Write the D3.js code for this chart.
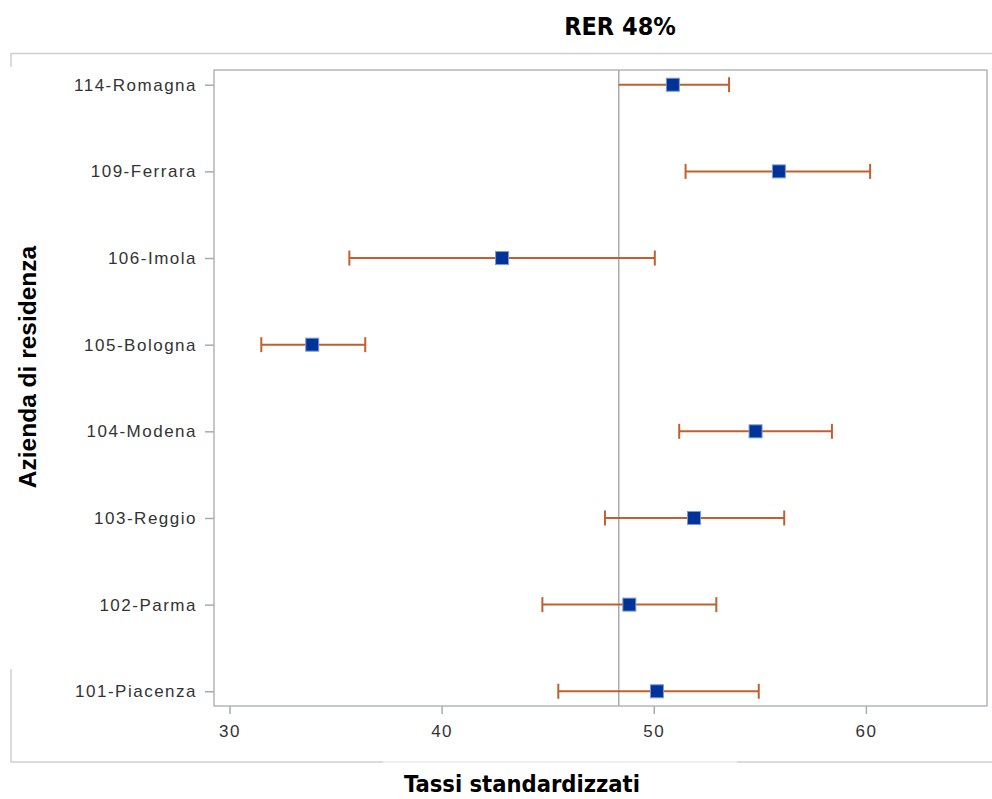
<!DOCTYPE html>
<html>
<head>
<meta charset="utf-8">
<script src="https://cdn.jsdelivr.net/npm/d3@7"></script>
<style>
  body { margin: 0; background: #fff; }
  svg { display: block; }
</style>
</head>
<body>
<svg class="chart" width="992" height="799"></svg>
<script>
// data
const aziende = ['114-Romagna', '109-Ferrara', '106-Imola', '105-Bologna',
    '104-Modena', '103-Reggio', '102-Parma', '101-Piacenza'];
const tassi = [50.9, 55.9, 42.85, 33.9, 54.8, 51.9, 48.85, 50.15];
const limInf = [48.35, 51.5, 35.65, 31.5, 51.2, 47.7, 44.75, 45.5];
const limSup = [53.55, 60.2, 50.05, 36.4, 58.4, 56.15, 52.95, 54.95];
const xTicks = [30, 40, 50, 60];
const rer = 48.35;
const titolo = 'RER 48%';

const data = aziende.map((a, i) => ({ azienda: a, tasso: tassi[i], lo: limInf[i], hi: limSup[i] }));

const svg = d3.select('.chart');

const plot = { left: 214, right: 987, top: 70, bottom: 706 };

// light outer frame (partly hidden like in the original)
const frame = svg.append('g')
    .attr('fill', 'none')
    .attr('stroke', '#cfcfcf')
    .attr('stroke-width', 1.5);
frame.append('path').attr('d', 'M11,67V53.5H992');
frame.append('path').attr('d', 'M11,669V762H383');
frame.append('path').attr('d', 'M737,762H992');
frame.append('path').attr('d', 'M383,762H737').attr('stroke', '#e8e8e8');

const xScale = d3.scaleLinear()
    .domain([29.27, 65.71])
    .range([plot.left, plot.right]);

const yScale = d3.scalePoint()
    .domain(aziende)
    .range([plot.top, plot.bottom])
    .padding(0.17);

// y axis
const yAxis = svg.append('g')
    .attr('transform', `translate(${plot.left}, 0)`)
    .call(d3.axisLeft(yScale).tickSize(9).tickPadding(8));
yAxis.select('.domain').remove();

// x axis
const xAxis = svg.append('g')
    .attr('transform', `translate(0, ${plot.bottom})`)
    .call(d3.axisBottom(xScale).tickValues(xTicks).tickSize(8).tickPadding(11));
xAxis.select('.domain').remove();

svg.selectAll('.tick line')
    .attr('stroke', '#a7abaf')
    .attr('stroke-width', 1.5);
svg.selectAll('.tick text')
    .attr('fill', '#333')
    .style('font-family', 'Liberation Sans, Arial, sans-serif')
    .style('font-size', '17px')
    .style('letter-spacing', '1.5px');

// plot frame
svg.append('rect')
    .attr('x', plot.left)
    .attr('y', plot.top)
    .attr('width', plot.right - plot.left)
    .attr('height', plot.bottom - plot.top)
    .attr('fill', 'none')
    .attr('stroke', '#b3b7bb')
    .attr('stroke-width', 1.5);

// reference line
svg.append('line')
    .attr('x1', xScale(rer))
    .attr('x2', xScale(rer))
    .attr('y1', plot.top)
    .attr('y2', plot.bottom)
    .attr('stroke', '#a7abaf')
    .attr('stroke-width', 1.5);

// error bars
const bars = svg.append('g')
    .attr('stroke', '#c0602e')
    .attr('stroke-width', 2)
    .selectAll('g')
    .data(data)
    .join('g');

bars.append('line')
    .attr('x1', d => xScale(d.lo))
    .attr('x2', d => xScale(d.hi))
    .attr('y1', d => yScale(d.azienda))
    .attr('y2', d => yScale(d.azienda));

// lower caps, the one sitting on the RER line is covered by it
bars.filter(d => Math.abs(d.lo - rer) > 0.1)
    .append('line')
    .attr('x1', d => xScale(d.lo))
    .attr('x2', d => xScale(d.lo))
    .attr('y1', d => yScale(d.azienda) - 7.5)
    .attr('y2', d => yScale(d.azienda) + 7.5);

bars.append('line')
    .attr('x1', d => xScale(d.hi))
    .attr('x2', d => xScale(d.hi))
    .attr('y1', d => yScale(d.azienda) - 7.5)
    .attr('y2', d => yScale(d.azienda) + 7.5);

// markers
const size = 13;
svg.append('g')
    .selectAll('rect')
    .data(data)
    .join('rect')
    .attr('x', d => xScale(d.tasso) - size / 2)
    .attr('y', d => yScale(d.azienda) - size / 2)
    .attr('width', size)
    .attr('height', size)
    .attr('fill', '#003399')
    .attr('stroke', '#7a9ad8')
    .attr('stroke-width', 1);

// titles
svg.append('text')
    .attr('x', 620)
    .attr('y', 35)
    .attr('text-anchor', 'middle')
    .style('font-family', 'DejaVu Sans Condensed, DejaVu Sans, sans-serif')
    .style('font-weight', 'bold')
    .style('font-size', '25px')
    .attr('fill', '#000')
    .text(titolo);

svg.append('text')
    .attr('x', 522)
    .attr('y', 792)
    .attr('text-anchor', 'middle')
    .style('font-family', 'DejaVu Sans Condensed, DejaVu Sans, sans-serif')
    .style('font-weight', 'bold')
    .style('font-size', '23.5px')
    .attr('fill', '#000')
    .text('Tassi standardizzati');

svg.append('text')
    .attr('transform', 'translate(36, 367) rotate(-90)')
    .attr('text-anchor', 'middle')
    .style('font-family', 'Liberation Sans, Arial, sans-serif')
    .style('font-weight', 'bold')
    .style('font-size', '24.5px')
    .attr('fill', '#000')
    .text('Azienda di residenza');
</script>
</body>
</html>
